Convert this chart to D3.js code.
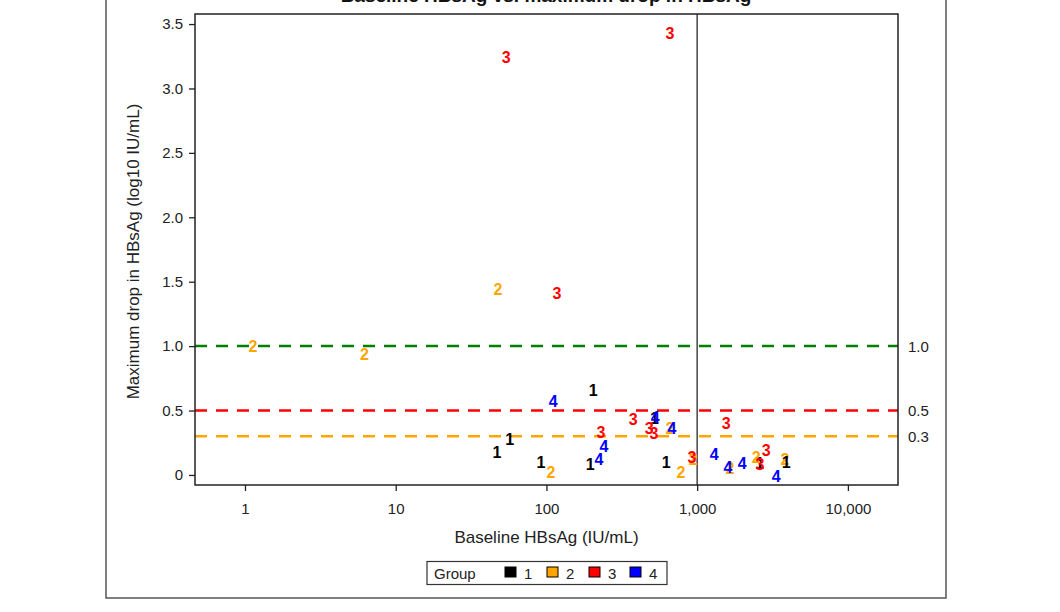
<!DOCTYPE html>
<html>
<head>
<meta charset="utf-8">
<script src="https://cdn.jsdelivr.net/npm/d3@7"></script>
<style>
  html, body { margin: 0; padding: 0; background: #fff; }
  svg { display: block; }
  text { font-family: "Liberation Sans", Arial, sans-serif; }
</style>
</head>
<body>
<script>
// ---- data ----
const baseline = [204, 57, 47, 92, 195, 622, 2600, 520,
  1.13, 6.2, 47.7, 107, 782, 661, 940, 1652, 2460, 3830,
  3890,
  661, 54, 117.5, 376, 230, 480, 517, 925, 1556, 2866, 2613,
  111, 526, 681, 241, 223, 1295, 1603, 1986, 3340];
const maxDrop = [0.66, 0.28, 0.18, 0.10, 0.085, 0.10, 0.09, 0.44,
  1.00, 0.94, 1.44, 0.02, 0.02, 0.36, 0.12, 0.05, 0.14, 0.12,
  0.10,
  3.43, 3.24, 1.41, 0.43, 0.33, 0.365, 0.32, 0.14, 0.40, 0.19, 0.08,
  0.57, 0.45, 0.36, 0.22, 0.12, 0.16, 0.06, 0.09, -0.01];
const group = ["1", "1", "1", "1", "1", "1", "1", "1",
  "2", "2", "2", "2", "2", "2", "2", "2", "2", "2",
  "1",
  "3", "3", "3", "3", "3", "3", "3", "3", "3", "3", "3",
  "4", "4", "4", "4", "4", "4", "4", "4", "4"];
const groups = ["1", "2", "3", "4"];
const groupColors = ["#000000", "#FFA500", "#FF0000", "#0000FF"];
const xTicks = [1, 10, 100, 1000, 10000];
const yTicks = [0, 0.5, 1.0, 1.5, 2.0, 2.5, 3.0, 3.5];
const refValues = [1.0, 0.5, 0.3];
const refLabels = ["1.0", "0.5", "0.3"];
const refColors = ["#008000", "#FF0000", "#FFA500"];
const vRef = 1000;
const titleText = "Baseline HBsAg vs. maximum drop in HBsAg";
const xTitle = "Baseline HBsAg (IU/mL)";
const yTitle = "Maximum drop in HBsAg (log10 IU/mL)";
const legendTitle = "Group";

// ---- layout ----
const W = 1060, H = 612;
const L = 195, R = 898, T = 14, B = 485;

const svg = d3.select("body").append("svg").attr("width", W).attr("height", H);

// outer frame
svg.append("rect").attr("x", 106).attr("y", -20).attr("width", 840).attr("height", 618)
  .attr("fill", "none").attr("stroke", "#555").attr("stroke-width", 1.5);

// title (cut off at top)
svg.append("text").attr("x", 546).attr("y", 2).attr("text-anchor", "middle")
  .attr("font-size", 19).attr("font-weight", "bold").attr("fill", "#111").text(titleText);

const x = d3.scaleLog().domain([0.466, 21500]).range([L, R]);
const y = d3.scaleLinear().domain([-0.078, 3.578]).range([B, T]);
const color = d3.scaleOrdinal().domain(groups).range(groupColors);

// axes
const xAxis = d3.axisBottom(x).tickValues(xTicks).tickFormat(d3.format(",")).tickSize(6).tickSizeOuter(0);
const gx = svg.append("g").attr("transform", `translate(0,${B})`).call(xAxis);
gx.select(".domain").remove();
gx.selectAll(".tick line").attr("stroke", "#222").attr("stroke-width", 1.3);
gx.selectAll(".tick text").attr("font-size", 15).attr("fill", "#222").attr("dy", "1.35em")
  .attr("font-family", "Liberation Sans, Arial, sans-serif");

const yAxis = d3.axisLeft(y).tickValues(yTicks).tickFormat(d => d === 0 ? "0" : d3.format(".1f")(d)).tickSize(6).tickSizeOuter(0);
const gy = svg.append("g").attr("transform", `translate(${L},0)`).call(yAxis);
gy.select(".domain").remove();
gy.selectAll(".tick line").attr("stroke", "#222").attr("stroke-width", 1.3);
gy.selectAll(".tick text").attr("font-size", 15).attr("fill", "#222").attr("x", -12)
  .attr("font-family", "Liberation Sans, Arial, sans-serif");

// reference lines
refValues.forEach((v, i) => {
  svg.append("line").attr("x1", L).attr("x2", R).attr("y1", y(v)).attr("y2", y(v))
    .attr("stroke", refColors[i]).attr("stroke-width", 2.5).attr("stroke-dasharray", "12,9");
  svg.append("text").attr("x", R + 10).attr("y", y(v)).attr("dy", "0.36em")
    .attr("font-size", 15).attr("fill", "#222").text(refLabels[i]);
});

// vertical reference
svg.append("line").attr("x1", x(vRef)).attr("x2", x(vRef)).attr("y1", T).attr("y2", B)
  .attr("stroke", "#444").attr("stroke-width", 1.5);

// plot border
svg.append("rect").attr("x", L).attr("y", T).attr("width", R - L).attr("height", B - T)
  .attr("fill", "none").attr("stroke", "#222").attr("stroke-width", 1.5);

// points as characters
const pts = baseline.map((b, i) => ({ b, d: maxDrop[i], g: group[i] }));
svg.append("g").selectAll("text").data(pts).join("text")
  .attr("x", d => x(d.b)).attr("y", d => y(d.d)).attr("dy", "0.36em")
  .attr("text-anchor", "middle").attr("font-size", 16).attr("font-weight", "bold")
  .attr("fill", d => color(d.g)).text(d => d.g);

// axis titles
svg.append("text").attr("x", (L + R) / 2).attr("y", 543).attr("text-anchor", "middle")
  .attr("font-size", 17).attr("fill", "#222").text(xTitle);
svg.append("text").attr("transform", `translate(139,${(T + B) / 2 + 2}) rotate(-90)`)
  .attr("text-anchor", "middle").attr("font-size", 17).attr("fill", "#222").text(yTitle);

// legend
const lg = svg.append("g");
lg.append("rect").attr("x", 427).attr("y", 561.5).attr("width", 240).attr("height", 23)
  .attr("fill", "#fff").attr("stroke", "#333").attr("stroke-width", 1.2);
lg.append("text").attr("x", 434).attr("y", 579).attr("font-size", 15).attr("fill", "#222").text(legendTitle);
const swX = [505, 547, 589, 630];
groups.forEach((g, i) => {
  lg.append("rect").attr("x", swX[i]).attr("y", 567).attr("width", 11).attr("height", 10)
    .attr("fill", groupColors[i]).attr("stroke", "#000").attr("stroke-width", 1);
  lg.append("text").attr("x", swX[i] + 19).attr("y", 579).attr("font-size", 15).attr("fill", "#222").text(g);
});
</script>
</body>
</html>
